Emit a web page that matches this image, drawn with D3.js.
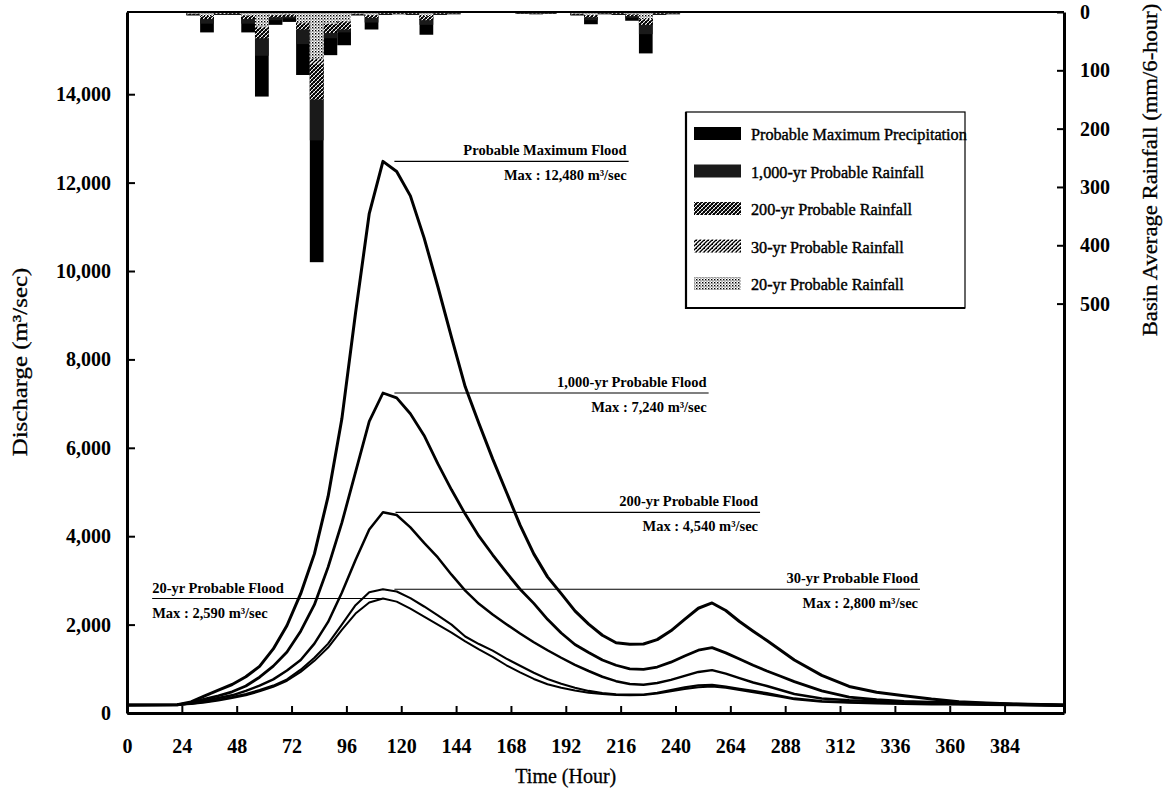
<!DOCTYPE html>
<html><head><meta charset="utf-8">
<script src="https://cdn.jsdelivr.net/npm/d3@7"></script>
<style>body{margin:0;background:#fff} svg{display:block}</style>
</head><body><svg id="c" width="1168" height="793"></svg>
<script>
// ---------- DATA ----------
const hours     = [0, 22, 28, 34, 40, 46, 52, 58, 64, 70, 76, 82, 88, 94, 100, 106, 112, 118, 124, 130, 136, 142, 148, 154, 160, 166, 172, 178, 184, 190, 196, 202, 208, 214, 220, 226, 232, 238, 244, 250, 256, 262, 268, 274, 280, 286, 292, 304, 316, 328, 340, 352, 364, 376, 388, 400, 410];
const floodPMF  = [180, 185, 250, 390, 520, 645, 820, 1055, 1450, 1980, 2700, 3600, 4900, 6650, 9050, 11300, 12480, 12250, 11700, 10750, 9650, 8500, 7380, 6550, 5750, 5000, 4250, 3600, 3080, 2700, 2310, 2010, 1760, 1590, 1555, 1560, 1660, 1860, 2120, 2370, 2490, 2320, 2070, 1850, 1640, 1420, 1200, 850, 600, 470, 390, 315, 255, 225, 205, 190, 180];
const flood1000 = [180, 185, 230, 315, 390, 480, 610, 810, 1060, 1380, 1850, 2450, 3300, 4300, 5450, 6600, 7240, 7130, 6770, 6280, 5640, 5050, 4500, 4000, 3580, 3180, 2800, 2480, 2120, 1810, 1550, 1370, 1200, 1080, 1000, 985, 1040, 1150, 1290, 1420, 1480, 1360, 1220, 1080, 950, 830, 710, 500, 360, 300, 265, 245, 230, 215, 200, 190, 180];
const flood200  = [180, 185, 220, 275, 340, 400, 500, 620, 760, 960, 1200, 1570, 2060, 2720, 3460, 4150, 4540, 4480, 4200, 3850, 3520, 3130, 2770, 2470, 2230, 2010, 1800, 1600, 1420, 1250, 1090, 950, 820, 720, 655, 640, 680, 750, 840, 930, 970, 890, 790, 690, 610, 520, 430, 330, 290, 265, 250, 235, 220, 210, 200, 190, 180];
const flood30   = [180, 185, 210, 250, 300, 360, 430, 520, 620, 760, 980, 1250, 1570, 2000, 2440, 2730, 2800, 2750, 2600, 2410, 2210, 2000, 1730, 1560, 1410, 1230, 1070, 910, 770, 660, 570, 500, 450, 425, 415, 420, 460, 520, 580, 625, 640, 600, 550, 500, 450, 390, 330, 270, 245, 230, 220, 210, 200, 195, 185, 175, 170];
const flood20   = [180, 185, 205, 240, 285, 340, 400, 490, 590, 730, 930, 1180, 1480, 1880, 2250, 2500, 2590, 2520, 2360, 2180, 2000, 1820, 1620, 1440, 1270, 1080, 920, 770, 650, 570, 510, 460, 430, 410, 400, 405, 440, 490, 545, 585, 600, 570, 520, 470, 420, 365, 310, 255, 230, 215, 205, 195, 190, 180, 175, 165, 160];

// 6-hour rainfall periods (start hour), mm/6-hour
const rainStart = [26, 32, 38, 44, 50, 56, 62, 68, 74, 80, 86, 92, 98, 104, 110, 116, 122, 128, 134, 140, 170, 176, 182, 194, 200, 206, 212, 218, 224, 230, 236];
const rainPMP   = [6, 35, 5, 5, 35, 145, 22, 17, 108, 429, 74, 57, 6, 30, 5, 4, 5, 39, 5, 4, 3, 4, 3, 6, 21, 4, 5, 15, 71, 5, 4];
const rain1000  = [5, 20, 4, 4, 20, 75, 14, 11, 55, 220, 45, 35, 5, 18, 4, 3, 4, 22, 4, 3, 2, 3, 2, 5, 14, 3, 4, 10, 38, 4, 3];
const rain200   = [4, 12, 3, 3, 12, 45, 9, 8, 30, 150, 36, 30, 4, 10, 3, 3, 3, 14, 3, 2, 2, 2, 2, 4, 9, 2, 3, 7, 22, 3, 2];
const rain30    = [3, 8, 3, 2, 7, 28, 6, 5, 20, 90, 22, 18, 3, 6, 2, 2, 2, 8, 2, 2, 1, 2, 1, 3, 6, 2, 2, 4, 14, 2, 2];
const rain20    = [3, 7, 2, 2, 6, 25, 5, 4, 18, 80, 20, 16, 3, 5, 2, 2, 2, 7, 2, 2, 1, 2, 1, 3, 5, 2, 2, 4, 12, 2, 2];

const xTicks    = [0, 24, 48, 72, 96, 120, 144, 168, 192, 216, 240, 264, 288, 312, 336, 360, 384];
const yTicks    = [0, 2000, 4000, 6000, 8000, 10000, 12000, 14000];
const rainTicks = [0, 100, 200, 300, 400, 500];

const legendLabels = ["Probable Maximum Precipitation", "1,000-yr Probable Rainfall", "200-yr Probable Rainfall", "30-yr Probable Rainfall", "20-yr Probable Rainfall"];
const floodTitles  = ["Probable Maximum Flood", "1,000-yr Probable Flood", "200-yr Probable Flood", "30-yr Probable Flood", "20-yr Probable Flood"];
const floodMaxText = ["12,480", "7,240", "4,540", "2,800", "2,590"];
const floodMax     = [12480, 7240, 4540, 2800, 2590];

// ---------- LAYOUT ----------
const L = 127, R = 1064, T = 12, B = 713;
const serif = "'Liberation Serif','Times New Roman',serif";
const annotLayout = [
  {h0: 117, h1: 219.5, side: "right"},
  {h0: 117, h1: 254.5, side: "right"},
  {h0: 117.5, h1: 277, side: "right"},
  {h0: 117, h1: 347, side: "right"},
  {h0: 11, h1: 112, side: "left"}
];

const svg = d3.select("#c");
const x = d3.scaleLinear().domain([0, 410]).range([L, R]);
const y = d3.scaleLinear().domain([0, 15860]).range([B, T]);
const yr = d3.scaleLinear().domain([0, 1202]).range([T, B]);

// patterns
const defs = svg.append("defs");
function pat(id, size, draw) {
  const p = defs.append("pattern").attr("id", id).attr("patternUnits", "userSpaceOnUse")
    .attr("width", size).attr("height", size);
  p.append("rect").attr("width", size).attr("height", size).attr("fill", "#fff");
  draw(p);
}
pat("p200", 4, p => {
  p.append("path").attr("d", "M0,4 L4,0 M-1,1 L1,-1 M3,5 L5,3").attr("stroke", "#000").attr("stroke-width", 1.6);
  p.append("path").attr("d", "M0,0 L4,4 M-1,3 L1,5 M3,-1 L5,1").attr("stroke", "#000").attr("stroke-width", 1.0);
});
pat("p30", 4, p => {
  p.append("path").attr("d", "M0,4 L4,0 M-1,1 L1,-1 M3,5 L5,3").attr("stroke", "#000").attr("stroke-width", 1.3);
  p.append("rect").attr("x", 0).attr("y", 0).attr("width", 1).attr("height", 1).attr("fill", "#000");
});
pat("p20", 3, p => {
  p.append("rect").attr("x", 0).attr("y", 0).attr("width", 1.4).attr("height", 1.4).attr("fill", "#000");
  p.append("rect").attr("x", 1.5).attr("y", 1.5).attr("width", 1).attr("height", 1).attr("fill", "#000");
});
const rainFills = ["#000", "#1a1a1a", "url(#p200)", "url(#p30)", "url(#p20)"];
const rainSeries = [rainPMP, rain1000, rain200, rain30, rain20];

// rainfall bars (hanging from top)
rainSeries.forEach((vals, si) => {
  svg.append("g").selectAll("rect").data(rainStart).join("rect")
    .attr("x", (d) => x(d))
    .attr("width", (d) => x(d + 6) - x(d))
    .attr("y", yr(0))
    .attr("height", (d, i) => yr(vals[i]) - yr(0))
    .attr("fill", rainFills[si]);
});

// flood hydrographs
const floodSeries = [floodPMF, flood1000, flood200, flood30, flood20];
const widths = [3, 2.8, 2.5, 2.1, 2];
const line = d3.line().x((d) => x(d[0])).y((d) => y(d[1]));
floodSeries.forEach((vals, si) => {
  svg.append("path").datum(hours.map((h, i) => [h, vals[i]]))
    .attr("d", line).attr("fill", "none").attr("stroke", "#000")
    .attr("stroke-width", widths[si]).attr("stroke-linejoin", "round");
});

// annotations
floodTitles.forEach((t, i) => {
  const a = annotLayout[i];
  const yy = y(floodMax[i]);
  svg.append("line").attr("x1", x(a.h0)).attr("x2", x(a.h1)).attr("y1", yy).attr("y2", yy)
    .attr("stroke", "#000").attr("stroke-width", 1.1);
  const tx = a.side === "right" ? x(a.h1) - 2 : x(a.h0);
  const anchor = a.side === "right" ? "end" : "start";
  svg.append("text").attr("x", tx).attr("y", yy - 6).attr("text-anchor", anchor)
    .attr("font-family", serif).attr("font-size", 14.5).attr("font-weight", "bold").text(t);
  svg.append("text").attr("x", tx).attr("y", yy + 19).attr("text-anchor", anchor)
    .attr("font-family", serif).attr("font-size", 14.5).attr("font-weight", "bold")
    .text("Max : " + floodMaxText[i] + " m³/sec");
});

// axes
const axL = d3.axisLeft(y).tickValues(yTicks).tickSizeInner(-8).tickSizeOuter(0).tickPadding(16).tickFormat(d3.format(","));
const axB = d3.axisBottom(x).tickValues(xTicks).tickSizeInner(-7).tickSizeOuter(0).tickPadding(26).tickFormat(d3.format("d"));
const axR = d3.axisRight(yr).tickValues(rainTicks).tickSizeInner(-7).tickSizeOuter(0).tickPadding(16);

function styleAxis(g) {
  g.select(".domain").attr("stroke", "#000").attr("stroke-width", 3);
  g.selectAll(".tick line").attr("stroke", "#000").attr("stroke-width", 2);
  g.selectAll("text").attr("font-family", serif).attr("font-size", 20).attr("font-weight", "bold").attr("fill", "#000");
}
svg.append("g").attr("transform", `translate(${L},0)`).call(axL).call(styleAxis);
svg.append("g").attr("transform", `translate(0,${B})`).call(axB).call(styleAxis);
svg.append("g").attr("transform", `translate(${R},0)`).call(axR).call(styleAxis);
svg.append("line").attr("x1", L).attr("x2", R).attr("y1", T).attr("y2", T).attr("stroke", "#000").attr("stroke-width", 2);

// axis titles
svg.append("text").attr("x", x(192)).attr("y", 783).attr("text-anchor", "middle")
  .attr("font-family", serif).attr("font-size", 20).attr("stroke", "#000").attr("stroke-width", 0.3).text("Time (Hour)");
svg.append("text").attr("transform", "translate(27,362) rotate(-90) scale(1.13,1)").attr("text-anchor", "middle")
  .attr("font-family", serif).attr("font-size", 22).attr("stroke", "#000").attr("stroke-width", 0.3).text("Discharge (m³/sec)");
svg.append("text").attr("transform", "translate(1157,170) rotate(-90) scale(1.08,1)").attr("text-anchor", "middle")
  .attr("font-family", serif).attr("font-size", 21).attr("stroke", "#000").attr("stroke-width", 0.3).text("Basin Average Rainfall (mm/6-hour)");

// legend
const lg = svg.append("g");
lg.append("rect").attr("x", 686).attr("y", 112).attr("width", 279).attr("height", 196)
  .attr("fill", "#fff").attr("stroke", "#000").attr("stroke-width", 1.2);
lg.append("path").attr("d", "M686,112 L686,308 L965,308").attr("fill", "none").attr("stroke", "#000").attr("stroke-width", 2.2);
legendLabels.forEach((t, i) => {
  const yy = 134 + i * 37.5;
  lg.append("rect").attr("x", 694).attr("y", yy - 7).attr("width", 47).attr("height", 13).attr("fill", rainFills[i]);
  lg.append("text").attr("x", 751).attr("y", yy + 6).attr("font-family", serif).attr("font-size", 16.2)
    .attr("stroke", "#000").attr("stroke-width", 0.4).text(t);
});
</script></body></html>
